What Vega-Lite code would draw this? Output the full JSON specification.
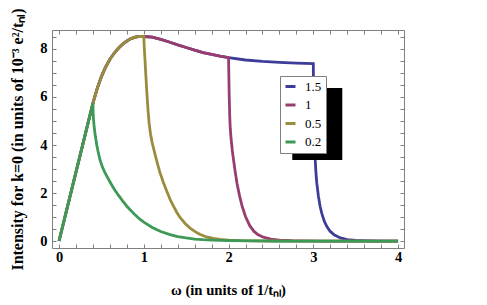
{
  "$schema": "https://vega.github.io/schema/vega-lite/v6.json",
  "width": 352,
  "height": 218,
  "autosize": {"type": "none"},
  "padding": {"left": 52, "top": 30, "right": 83, "bottom": 57},
  "background": "white",
  "config": {
    "view": {"stroke": "#808080", "strokeWidth": 1},
    "axis": {
      "domain": false,
      "grid": false,
      "ticks": true,
      "tickColor": "#808080",
      "tickWidth": 1,
      "tickSize": -4,
      "labelFont": "Liberation Serif",
      "labelFontWeight": "bold",
      "labelFontSize": 14.5,
      "labelColor": "black",
      "titleFont": "Liberation Serif",
      "titleFontWeight": "bold",
      "titleFontSize": 14.7,
      "titleColor": "black"
    }
  },
  "datasets": {
    "curves": [
      {"w": 0, "I": 0, "s": "1.5"}, {"w": 0.4, "I": 5.74, "s": "1.5"}, {"w": 0.45, "I": 6.35, "s": "1.5"}, {"w": 0.5, "I": 6.85, "s": "1.5"}, {"w": 0.55, "I": 7.25, "s": "1.5"}, {"w": 0.6, "I": 7.57, "s": "1.5"}, {"w": 0.65, "I": 7.82, "s": "1.5"}, {"w": 0.7, "I": 8.03, "s": "1.5"}, {"w": 0.75, "I": 8.2, "s": "1.5"}, {"w": 0.8, "I": 8.33, "s": "1.5"}, {"w": 0.85, "I": 8.43, "s": "1.5"}, {"w": 0.9, "I": 8.49, "s": "1.5"}, {"w": 0.95, "I": 8.52, "s": "1.5"}, {"w": 1.0, "I": 8.52, "s": "1.5"},
      {"w": 1.1, "I": 8.49, "s": "1.5"}, {"w": 1.2, "I": 8.4, "s": "1.5"}, {"w": 1.3, "I": 8.29, "s": "1.5"}, {"w": 1.4, "I": 8.17, "s": "1.5"}, {"w": 1.5, "I": 8.06, "s": "1.5"}, {"w": 1.6, "I": 7.95, "s": "1.5"}, {"w": 1.7, "I": 7.85, "s": "1.5"}, {"w": 1.8, "I": 7.77, "s": "1.5"}, {"w": 1.9, "I": 7.7, "s": "1.5"}, {"w": 2.0, "I": 7.64, "s": "1.5"},
      {"w": 2.2, "I": 7.54, "s": "1.5"}, {"w": 2.4, "I": 7.48, "s": "1.5"}, {"w": 2.6, "I": 7.44, "s": "1.5"}, {"w": 2.8, "I": 7.41, "s": "1.5"}, {"w": 3.0, "I": 7.39, "s": "1.5"},
      {"w": 3.002, "I": 6.6, "s": "1.5"}, {"w": 3.006, "I": 5.6, "s": "1.5"}, {"w": 3.01, "I": 4.9, "s": "1.5"}, {"w": 3.015, "I": 4.2, "s": "1.5"}, {"w": 3.02, "I": 3.55, "s": "1.5"}, {"w": 3.03, "I": 2.9, "s": "1.5"}, {"w": 3.04, "I": 2.45, "s": "1.5"}, {"w": 3.06, "I": 1.87, "s": "1.5"}, {"w": 3.08, "I": 1.45, "s": "1.5"}, {"w": 3.1, "I": 1.15, "s": "1.5"}, {"w": 3.13, "I": 0.82, "s": "1.5"}, {"w": 3.16, "I": 0.6, "s": "1.5"}, {"w": 3.2, "I": 0.4, "s": "1.5"}, {"w": 3.25, "I": 0.25, "s": "1.5"}, {"w": 3.32, "I": 0.13, "s": "1.5"}, {"w": 3.4, "I": 0.06, "s": "1.5"}, {"w": 3.5, "I": 0.025, "s": "1.5"}, {"w": 3.65, "I": 0.007, "s": "1.5"}, {"w": 3.8, "I": 0, "s": "1.5"}, {"w": 4.0, "I": 0, "s": "1.5"},

      {"w": 0, "I": 0, "s": "1"}, {"w": 0.4, "I": 5.74, "s": "1"}, {"w": 0.45, "I": 6.35, "s": "1"}, {"w": 0.5, "I": 6.85, "s": "1"}, {"w": 0.55, "I": 7.25, "s": "1"}, {"w": 0.6, "I": 7.57, "s": "1"}, {"w": 0.65, "I": 7.82, "s": "1"}, {"w": 0.7, "I": 8.03, "s": "1"}, {"w": 0.75, "I": 8.2, "s": "1"}, {"w": 0.8, "I": 8.33, "s": "1"}, {"w": 0.85, "I": 8.43, "s": "1"}, {"w": 0.9, "I": 8.49, "s": "1"}, {"w": 0.95, "I": 8.52, "s": "1"}, {"w": 1.0, "I": 8.52, "s": "1"},
      {"w": 1.1, "I": 8.49, "s": "1"}, {"w": 1.2, "I": 8.4, "s": "1"}, {"w": 1.3, "I": 8.29, "s": "1"}, {"w": 1.4, "I": 8.17, "s": "1"}, {"w": 1.5, "I": 8.06, "s": "1"}, {"w": 1.6, "I": 7.95, "s": "1"}, {"w": 1.7, "I": 7.85, "s": "1"}, {"w": 1.8, "I": 7.77, "s": "1"}, {"w": 1.9, "I": 7.7, "s": "1"}, {"w": 2.0, "I": 7.64, "s": "1"},
      {"w": 2.003, "I": 7.0, "s": "1"}, {"w": 2.008, "I": 6.0, "s": "1"}, {"w": 2.014, "I": 5.2, "s": "1"}, {"w": 2.02, "I": 4.7, "s": "1"}, {"w": 2.03, "I": 4.25, "s": "1"}, {"w": 2.045, "I": 3.75, "s": "1"}, {"w": 2.06, "I": 3.35, "s": "1"}, {"w": 2.08, "I": 2.85, "s": "1"}, {"w": 2.1, "I": 2.4, "s": "1"}, {"w": 2.13, "I": 1.88, "s": "1"}, {"w": 2.16, "I": 1.45, "s": "1"}, {"w": 2.2, "I": 1.02, "s": "1"}, {"w": 2.25, "I": 0.64, "s": "1"}, {"w": 2.3, "I": 0.4, "s": "1"}, {"w": 2.35, "I": 0.26, "s": "1"}, {"w": 2.41, "I": 0.16, "s": "1"}, {"w": 2.5, "I": 0.08, "s": "1"}, {"w": 2.6, "I": 0.037, "s": "1"}, {"w": 2.75, "I": 0.012, "s": "1"}, {"w": 2.9, "I": 0.003, "s": "1"}, {"w": 3.1, "I": 0, "s": "1"}, {"w": 4.0, "I": 0, "s": "1"},

      {"w": 0, "I": 0, "s": "0.5"}, {"w": 0.4, "I": 5.74, "s": "0.5"}, {"w": 0.45, "I": 6.35, "s": "0.5"}, {"w": 0.5, "I": 6.85, "s": "0.5"}, {"w": 0.55, "I": 7.25, "s": "0.5"}, {"w": 0.6, "I": 7.57, "s": "0.5"}, {"w": 0.65, "I": 7.82, "s": "0.5"}, {"w": 0.7, "I": 8.03, "s": "0.5"}, {"w": 0.75, "I": 8.2, "s": "0.5"}, {"w": 0.8, "I": 8.33, "s": "0.5"}, {"w": 0.85, "I": 8.43, "s": "0.5"}, {"w": 0.9, "I": 8.49, "s": "0.5"}, {"w": 0.95, "I": 8.52, "s": "0.5"}, {"w": 1.0, "I": 8.52, "s": "0.5"},
      {"w": 1.005, "I": 8.1, "s": "0.5"}, {"w": 1.015, "I": 7.5, "s": "0.5"}, {"w": 1.025, "I": 6.85, "s": "0.5"}, {"w": 1.035, "I": 6.25, "s": "0.5"}, {"w": 1.05, "I": 5.45, "s": "0.5"}, {"w": 1.063, "I": 4.9, "s": "0.5"}, {"w": 1.08, "I": 4.45, "s": "0.5"}, {"w": 1.1, "I": 4.08, "s": "0.5"}, {"w": 1.13, "I": 3.65, "s": "0.5"}, {"w": 1.16, "I": 3.24, "s": "0.5"}, {"w": 1.19, "I": 2.86, "s": "0.5"}, {"w": 1.23, "I": 2.45, "s": "0.5"}, {"w": 1.27, "I": 2.08, "s": "0.5"}, {"w": 1.31, "I": 1.74, "s": "0.5"}, {"w": 1.35, "I": 1.45, "s": "0.5"}, {"w": 1.39, "I": 1.19, "s": "0.5"}, {"w": 1.43, "I": 0.97, "s": "0.5"}, {"w": 1.49, "I": 0.72, "s": "0.5"}, {"w": 1.55, "I": 0.53, "s": "0.5"}, {"w": 1.61, "I": 0.38, "s": "0.5"}, {"w": 1.66, "I": 0.28, "s": "0.5"}, {"w": 1.74, "I": 0.17, "s": "0.5"}, {"w": 1.82, "I": 0.11, "s": "0.5"}, {"w": 1.9, "I": 0.07, "s": "0.5"}, {"w": 2.0, "I": 0.038, "s": "0.5"}, {"w": 2.15, "I": 0.016, "s": "0.5"}, {"w": 2.3, "I": 0.006, "s": "0.5"}, {"w": 2.5, "I": 0.002, "s": "0.5"}, {"w": 2.7, "I": 0, "s": "0.5"}, {"w": 4.0, "I": 0, "s": "0.5"},

      {"w": 0, "I": 0, "s": "0.2"}, {"w": 0.4, "I": 5.74, "s": "0.2"}, {"w": 0.402, "I": 5.4, "s": "0.2"}, {"w": 0.406, "I": 5.1, "s": "0.2"}, {"w": 0.412, "I": 4.85, "s": "0.2"}, {"w": 0.42, "I": 4.6, "s": "0.2"}, {"w": 0.43, "I": 4.33, "s": "0.2"}, {"w": 0.445, "I": 4.0, "s": "0.2"}, {"w": 0.46, "I": 3.74, "s": "0.2"}, {"w": 0.484, "I": 3.37, "s": "0.2"}, {"w": 0.51, "I": 3.1, "s": "0.2"}, {"w": 0.54, "I": 2.86, "s": "0.2"}, {"w": 0.57, "I": 2.66, "s": "0.2"}, {"w": 0.6, "I": 2.47, "s": "0.2"}, {"w": 0.65, "I": 2.17, "s": "0.2"}, {"w": 0.7, "I": 1.91, "s": "0.2"}, {"w": 0.75, "I": 1.67, "s": "0.2"}, {"w": 0.8, "I": 1.45, "s": "0.2"}, {"w": 0.85, "I": 1.26, "s": "0.2"}, {"w": 0.9, "I": 1.08, "s": "0.2"}, {"w": 0.95, "I": 0.92, "s": "0.2"}, {"w": 1.0, "I": 0.79, "s": "0.2"}, {"w": 1.1, "I": 0.563, "s": "0.2"}, {"w": 1.2, "I": 0.397, "s": "0.2"}, {"w": 1.3, "I": 0.276, "s": "0.2"}, {"w": 1.4, "I": 0.188, "s": "0.2"}, {"w": 1.5, "I": 0.127, "s": "0.2"}, {"w": 1.6, "I": 0.084, "s": "0.2"}, {"w": 1.7, "I": 0.055, "s": "0.2"}, {"w": 1.8, "I": 0.036, "s": "0.2"}, {"w": 2.0, "I": 0.014, "s": "0.2"}, {"w": 2.3, "I": 0.004, "s": "0.2"}, {"w": 2.6, "I": 0, "s": "0.2"}, {"w": 4.0, "I": 0, "s": "0.2"}
    ]
  },
  "layer": [
    {
      "data": {"name": "curves"},
      "mark": {"type": "line", "strokeWidth": 2.8, "strokeJoin": "miter"},
      "encoding": {
        "x": {
          "field": "w", "type": "quantitative",
          "scale": {"domain": [-0.083, 4.07], "nice": false, "zero": false},
          "axis": {
            "orient": "bottom",
            "values": [0, 0.2, 0.4, 0.6, 0.8, 1, 1.2, 1.4, 1.6, 1.8, 2, 2.2, 2.4, 2.6, 2.8, 3, 3.2, 3.4, 3.6, 3.8, 4],
            "labelExpr": "datum.value % 1 === 0 ? format(datum.value, 'd') : ''",
            "labelPadding": 6,
            "title": "ω (in units of 1/tₙₗ)",
            "titlePadding": 19,
            "encode": {"ticks": {"update": {"y2": {"signal": "datum.value % 1 === 0 ? -4 : -2"}}}}
          }
        },
        "y": {
          "field": "I", "type": "quantitative",
          "scale": {"domain": [-0.29, 8.79], "nice": false, "zero": false},
          "axis": {
            "orient": "left",
            "values": [0, 0.5, 1, 1.5, 2, 2.5, 3, 3.5, 4, 4.5, 5, 5.5, 6, 6.5, 7, 7.5, 8, 8.5],
            "labelExpr": "datum.value % 2 === 0 ? format(datum.value, 'd') : ''",
            "labelPadding": 9,
            "title": "Intensity for k=0 (in units of 10⁻³ e²/tₙₗ)",
            "titleFontSize": 16,
            "titlePadding": 14,
            "encode": {"ticks": {"update": {"x2": {"signal": "datum.value % 2 === 0 ? 4 : 2"}}}}
          }
        },
        "color": {
          "field": "s", "type": "nominal",
          "scale": {"domain": ["1.5", "1", "0.5", "0.2"], "range": ["#3D3D99", "#993D71", "#998C3D", "#3D9956"]},
          "sort": null,
          "legend": {
            "title": null,
            "orient": "none",
            "legendX": 228,
            "legendY": 46,
            "fillColor": "white",
            "strokeColor": "#808080",
            "padding": 4,
            "rowPadding": 4.5,
            "symbolType": "stroke",
            "symbolStrokeWidth": 3,
            "symbolSize": 100,
            "labelFont": "Liberation Serif",
            "labelFontSize": 13,
            "labelColor": "black",
            "labelOffset": 8,
            "labelExpr": "datum.label + '   '"
          }
        }
      }
    },
    {
      "data": {"values": [{}]},
      "mark": {"type": "rect", "color": "black"},
      "encoding": {
        "x": {
          "datum": 2.752, "type": "quantitative",
          "scale": {"domain": [-0.083, 4.07], "nice": false, "zero": false},
          "axis": {
            "orient": "top",
            "values": [0, 0.2, 0.4, 0.6, 0.8, 1, 1.2, 1.4, 1.6, 1.8, 2, 2.2, 2.4, 2.6, 2.8, 3, 3.2, 3.4, 3.6, 3.8, 4],
            "labels": false,
            "title": null,
            "encode": {"ticks": {"update": {"y2": {"signal": "datum.value % 1 === 0 ? 4 : 2"}}}}
          }
        },
        "x2": {"datum": 3.342},
        "y": {
          "datum": 6.375, "type": "quantitative",
          "scale": {"domain": [-0.29, 8.79], "nice": false, "zero": false},
          "axis": {
            "orient": "right",
            "values": [0, 0.5, 1, 1.5, 2, 2.5, 3, 3.5, 4, 4.5, 5, 5.5, 6, 6.5, 7, 7.5, 8, 8.5],
            "labels": false,
            "title": null,
            "encode": {"ticks": {"update": {"x2": {"signal": "datum.value % 2 === 0 ? -4 : -2"}}}}
          }
        },
        "y2": {"datum": 3.375}
      }
    }
  ],
  "resolve": {"axis": {"x": "independent", "y": "independent"}}
}
